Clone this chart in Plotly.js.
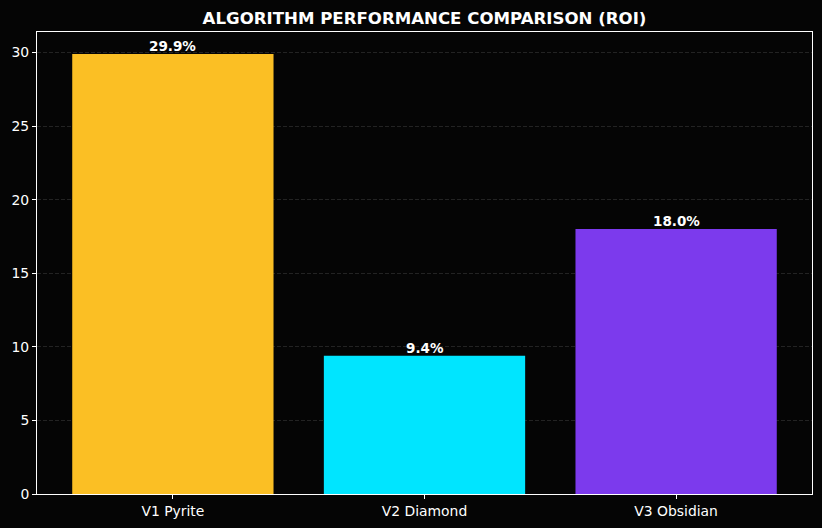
<!DOCTYPE html>
<html>
<head>
<meta charset="utf-8">
<script src="https://cdn.plot.ly/plotly-3.0.1.min.js"></script>
<style>
  html, body { margin: 0; padding: 0; background: #050505; }
  #chart { width: 822px; height: 528px; }
</style>
</head>
<body>
<div id="chart"></div>
<script>
// ROI per algorithm version
const algorithms = ['V1 Pyrite', 'V2 Diamond', 'V3 Obsidian'];
const roi = [29.9, 9.4, 18.0];
const barColors = ['#FBBF24', '#00E5FF', '#7C3AED'];
const yTicks = [0, 5, 10, 15, 20, 25, 30];

const trace = {
  type: 'bar',
  x: [0, 1, 2],
  y: roi,
  width: 0.8,
  marker: {color: barColors, line: {width: 0}},
  hoverinfo: 'skip'
};

// value labels sitting on top of each bar
const labels = roi.map((v, i) => ({
  x: i, y: v, xref: 'x', yref: 'y',
  text: '<b>' + v.toFixed(1) + '%</b>',
  showarrow: false, yanchor: 'bottom', yshift: -2,
  font: {family: 'DejaVu Sans', size: 13.5, color: '#ffffff'}
}));

const layout = {
  width: 822,
  height: 528,
  paper_bgcolor: '#050505',
  plot_bgcolor: '#050505',
  margin: {l: 37, r: 10, t: 32, b: 34},
  showlegend: false,
  font: {family: 'DejaVu Sans', color: '#ffffff', size: 13.9},
  title: {
    text: '<b>ALGORITHM PERFORMANCE COMPARISON (ROI)</b>',
    font: {family: 'DejaVu Sans', size: 16.6, color: '#ffffff'},
    xref: 'paper', x: 0.5, xanchor: 'center', y: 0.965, yanchor: 'middle'
  },
  annotations: labels,
  xaxis: {
    range: [-0.54, 2.54],
    tickvals: [0, 1, 2],
    ticktext: algorithms,
    showgrid: false,
    zeroline: false,
    showline: true, mirror: true, linecolor: '#ffffff', linewidth: 1,
    ticks: 'outside', ticklen: 4, tickcolor: '#ffffff',
    tickfont: {size: 13.9, color: '#ffffff'}
  },
  yaxis: {
    range: [0, 31.395],
    tickvals: yTicks,
    showgrid: true, gridcolor: '#2a2a2a', griddash: '4px,2px', gridwidth: 0.8,
    zeroline: false,
    showline: true, mirror: true, linecolor: '#ffffff', linewidth: 1,
    ticks: 'outside', ticklen: 4, tickcolor: '#ffffff',
    tickfont: {size: 13.9, color: '#ffffff'}
  }
};

Plotly.newPlot('chart', [trace], layout, {displayModeBar: false, staticPlot: true});
</script>
</body>
</html>
